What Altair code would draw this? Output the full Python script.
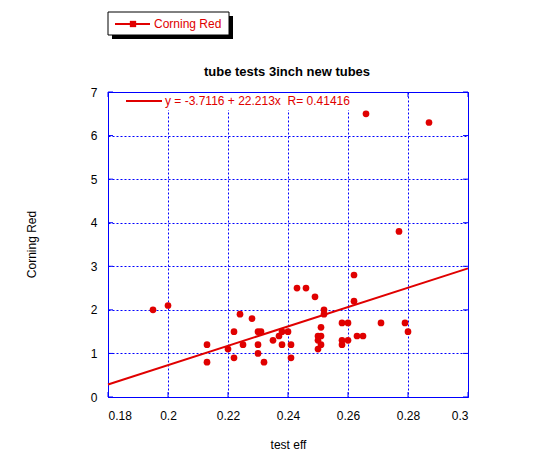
import altair as alt
import pandas as pd

# ---- data ----
test_eff = [0.195, 0.200, 0.213, 0.213, 0.220, 0.222, 0.222, 0.224, 0.225, 0.228,
            0.230, 0.231, 0.230, 0.230, 0.232, 0.235, 0.237, 0.238, 0.238, 0.240,
            0.241, 0.241, 0.243, 0.246, 0.249, 0.252, 0.252, 0.251, 0.250, 0.251,
            0.250, 0.251, 0.250, 0.258, 0.260, 0.258, 0.258, 0.260, 0.262, 0.262,
            0.263, 0.265, 0.266, 0.271, 0.277, 0.279, 0.280, 0.287]
corning_red = [2.0, 2.1, 1.2, 0.8, 1.1, 1.5, 0.9, 1.9, 1.2, 1.8,
               1.5, 1.5, 1.2, 1.0, 0.8, 1.3, 1.4, 1.5, 1.2, 1.5,
               1.2, 0.9, 2.5, 2.5, 2.3, 2.0, 1.9, 1.6, 1.4, 1.4,
               1.3, 1.2, 1.1, 1.7, 1.7, 1.3, 1.2, 1.3, 2.2, 2.8,
               1.4, 1.4, 6.5, 1.7, 3.8, 1.7, 1.5, 6.3]
intercept = -3.7116
slope = 22.213
r_value = 0.41416
x_ticks = [0.18, 0.2, 0.22, 0.24, 0.26, 0.28, 0.3]
y_ticks = [0, 1, 2, 3, 4, 5, 6, 7]
x_domain = [0.18, 0.3]
y_domain = [0, 7]
title_text = "tube tests 3inch new tubes"

W, H = 360, 305
RED = "#E00000"
BLUE = "#0000FF"
FONT = "Liberation Sans"

pts = pd.DataFrame({"x": test_eff, "y": corning_red})
fit = pd.DataFrame({"x": x_domain,
                    "y": [intercept + slope * v for v in x_domain]})
xt = pd.DataFrame({"t": x_ticks})
yt = pd.DataFrame({"t": y_ticks})
one = pd.DataFrame({"a": [0]})

xs = alt.Scale(domain=x_domain, nice=False, zero=False)
ys = alt.Scale(domain=y_domain, nice=False)

x_axis = alt.Axis(values=x_ticks, format="~g", grid=True, gridColor=BLUE,
                  gridDash=[2, 2], gridWidth=1, ticks=False, domain=False,
                  labelFont=FONT, labelFontSize=12, labelColor="black",
                  labelPadding=13, title="test eff", titleFont=FONT,
                  titleFontSize=12, titleFontWeight="normal", titleColor="black",
                  titleX=180, titleY=47, titleBaseline="middle",
                  titleAlign="center")
y_axis = alt.Axis(values=y_ticks, grid=True, gridColor=BLUE,
                  gridDash=[2, 2], gridWidth=1, ticks=False, domain=False,
                  labelFont=FONT, labelFontSize=12, labelColor="black",
                  labelPadding=11, title="Corning Red", titleFont=FONT,
                  titleFontSize=12, titleFontWeight="normal", titleColor="black",
                  titleAngle=270, titleX=-77, titleY=152,
                  titleBaseline="middle", titleAlign="center")

points = alt.Chart(pts).mark_circle(size=45, color=RED, opacity=1).encode(
    x=alt.X("x:Q", scale=xs, axis=x_axis),
    y=alt.Y("y:Q", scale=ys, axis=y_axis),
)

line = alt.Chart(fit).mark_line(color=RED, strokeWidth=2).encode(
    x=alt.X("x:Q", scale=xs), y=alt.Y("y:Q", scale=ys))

tick_b = alt.Chart(xt).mark_rule(color=BLUE).encode(
    x=alt.X("t:Q", scale=xs), y=alt.value(H - 5), y2=alt.value(H))
tick_t = alt.Chart(xt).mark_rule(color=BLUE).encode(
    x=alt.X("t:Q", scale=xs), y=alt.value(0), y2=alt.value(5))
tick_l = alt.Chart(yt).mark_rule(color=BLUE).encode(
    y=alt.Y("t:Q", scale=ys), x=alt.value(0), x2=alt.value(5))
tick_r = alt.Chart(yt).mark_rule(color=BLUE).encode(
    y=alt.Y("t:Q", scale=ys), x=alt.value(W - 5), x2=alt.value(W))

# equation legend inside the plot (white backdrop hides gridlines)
eq_bg = alt.Chart(one).mark_rect(color="white").encode(
    x=alt.value(1), x2=alt.value(248), y=alt.value(1), y2=alt.value(18))
eq_line = alt.Chart(one).mark_rule(color=RED, strokeWidth=2).encode(
    x=alt.value(18), x2=alt.value(54), y=alt.value(9))
eq_text = alt.Chart(one).mark_text(
    align="left", baseline="middle", color=RED, font=FONT, fontSize=12,
    text=f"y = {intercept} + {slope}x \u00a0R= {r_value}",
).encode(x=alt.value(57), y=alt.value(9))

# chart title
title = alt.Chart(one).mark_text(
    align="center", baseline="middle", color="black", font=FONT, fontSize=13,
    fontWeight="bold", text=title_text,
).encode(x=alt.value(179), y=alt.value(-20))

# series legend box at the top
shadow = alt.Chart(one).mark_rect(color="black").encode(
    x=alt.value(4), x2=alt.value(125), y=alt.value(-76), y2=alt.value(-53))
box = alt.Chart(one).mark_rect(fill="white", stroke="black", strokeWidth=1).encode(
    x=alt.value(0), x2=alt.value(121), y=alt.value(-80), y2=alt.value(-57))
lg_line = alt.Chart(one).mark_rule(color=RED, strokeWidth=2).encode(
    x=alt.value(7), x2=alt.value(42), y=alt.value(-68))
lg_mark = alt.Chart(one).mark_square(color=RED, size=40, opacity=1).encode(
    x=alt.value(25), y=alt.value(-68))
lg_text = alt.Chart(one).mark_text(
    align="left", baseline="middle", color=RED, font=FONT, fontSize=12,
    text="Corning Red").encode(x=alt.value(46), y=alt.value(-68))

chart = alt.layer(
    tick_b, tick_t, tick_l, tick_r, eq_bg, line, points, eq_line, eq_text,
    title, shadow, box, lg_line, lg_mark, lg_text,
).properties(
    width=W, height=H,
    autosize=alt.AutoSizeParams(type="none"),
    padding={"left": 100, "top": 84, "right": 64, "bottom": 53},
    background="white",
).configure_view(stroke=BLUE, strokeWidth=1)

chart.save("out.html", embed_options={"renderer": "svg", "actions": False})
